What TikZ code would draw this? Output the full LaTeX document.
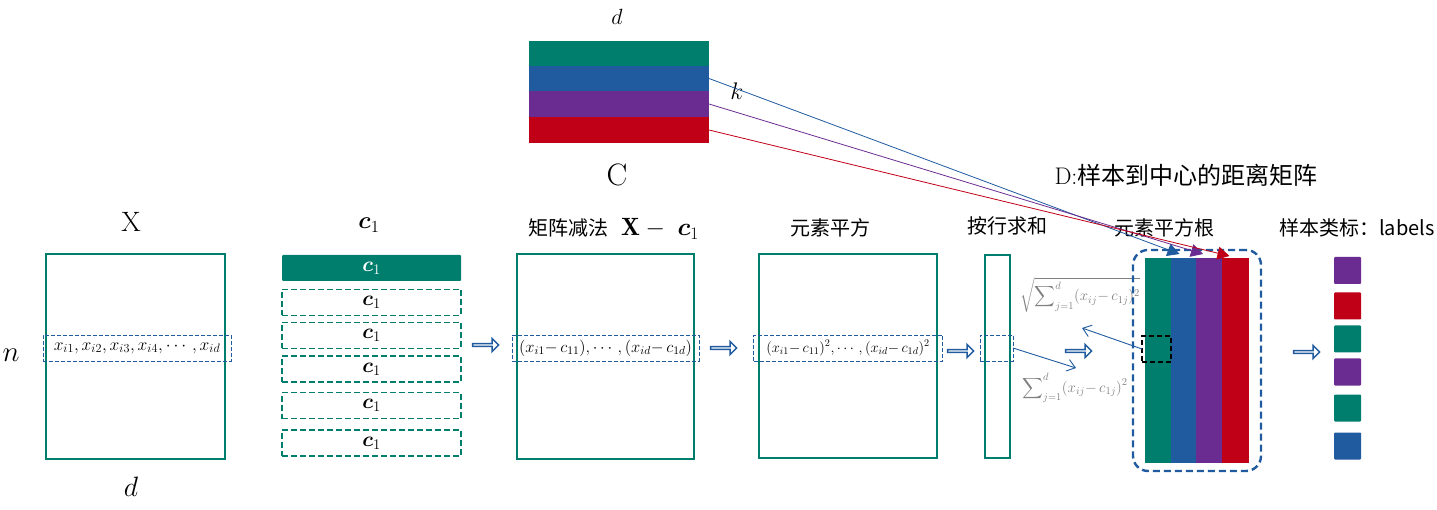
\RequirePackage{fix-cm}
\documentclass[tikz,border=0pt]{standalone}
\usepackage{amsmath,bm}
\usepackage{fontspec}
\newfontfamily\cjk{Noto Sans CJK SC}
\usetikzlibrary{positioning,arrows.meta,shapes.arrows}
\definecolor{mgreen}{RGB}{0,126,109}
\definecolor{mblue}{RGB}{31,91,158}
\definecolor{mpurple}{RGB}{107,44,145}
\definecolor{mred}{RGB}{192,0,22}
\definecolor{mgray}{RGB}{128,128,128}

\begin{document}
\begin{tikzpicture}[x=1pt, y=-1pt,
  every node/.style={inner sep=0pt, outer sep=0pt},
  mat/.style={draw=mgreen, line width=2pt},
  rowbox/.style={draw=mblue, dash pattern=on 4pt off 2pt, line width=0.9pt, minimum height=26pt,
    font=\fontsize{17.5}{17.5}\selectfont},
  cbar/.style={minimum width=179pt, minimum height=26pt, font=\fontsize{21}{21}\selectfont},
  cdash/.style={cbar, draw=mgreen, line width=1.6pt, dash pattern=on 6pt off 3pt},
  title/.style={font=\cjk\fontsize{20}{20}\selectfont},
  sym/.style={font=\fontsize{28}{28}\selectfont},
  hollow/.style={single arrow, draw=mblue, fill=white, line width=1.5pt,
    minimum height=26pt, minimum width=13pt, single arrow head extend=3pt},
  col/.style={minimum height=205pt},
  lab/.style={minimum width=27pt, minimum height=27pt, rounded corners=1pt},
  crow/.style={minimum width=180pt, minimum height=25.5pt},
  link/.style={-{Triangle[length=12pt,width=13pt]}, line width=0.8pt},
  thin/.style={-{Straight Barb[length=8pt,width=12pt]}, draw=mblue, line width=0.9pt},
  formula/.style={text=mgray, font=\fontsize{15}{15}\selectfont}
]
\useasboundingbox (0,0) rectangle (1437,510);

% centre matrix C
\node[crow, fill=mgreen] (Cg) at (619,53.5) {};
\node[crow, fill=mblue] (Cb) at (619,78.5) {};
\node[crow, fill=mpurple] (Cp) at (619,104) {};
\node[crow, fill=mred] (Cr) at (619,130) {};
\node[sym, font=\fontsize{22}{22}\selectfont] (Cd) at (617,17) {$d$};
\node[sym, font=\fontsize{31}{31}\selectfont] (Clab) at (617,175) {C};
\node[sym, font=\fontsize{24}{24}\selectfont] (Ck) at (737,91) {$k$};

% sample matrix X
\node[mat, minimum width=179pt, minimum height=205pt] (X) at (135.5,356.5) {};
\node[rowbox, minimum width=188pt] (Xrow) at (137,348) {$x_{i1}, x_{i2}, x_{i3}, x_{i4}, \cdots, x_{id}$};
\node[sym] (Xlab) at (131,222) {X};
\node[sym, font=\fontsize{29}{29}\selectfont] (Xn) at (11,355) {$n$};
\node[sym] (Xd) at (131,487) {$d$};

% repeated centre c1
\node[sym, font=\fontsize{24}{24}\selectfont] (c1lab) at (369,225) {$\bm{c}_1$};
\node[cbar, fill=mgreen, text=white, rounded corners=1pt] (c1) at (371.5,268) {$\bm{c}_1$};
\foreach \y [count=\i] in {302.5,335.5,369,405.5,443}
  \node[cdash] (c1d\i) at (371.5,\y) {$\bm{c}_1$};
\node[hollow] (a1) at (485,345) {};

% X - c1
\node[mat, minimum width=177pt, minimum height=204pt] (M) at (605.5,356.5) {};
\node[rowbox, minimum width=187pt, font=\fontsize{16.5}{16.5}\selectfont] (Mrow) at (605.5,348) {$(x_{i1}{-}\,c_{11}),\cdots,(x_{id}{-}\,c_{1d})$};
\node[title] (Mt) at (568,228) {矩阵减法};
\node[sym, font=\fontsize{25}{25}\selectfont] (Mt2) at (660,229) {$\mathbf{X}-\;\bm{c}_1$};
\node[hollow] (a2) at (723,348) {};

% squares
\node[mat, minimum width=178pt, minimum height=203pt] (S) at (848,356) {};
\node[rowbox, minimum width=189pt, font=\fontsize{14.5}{14.5}\selectfont] (Srow) at (848,348) {$(x_{i1}{-}\,c_{11})^2,\cdots,(x_{id}{-}\,c_{1d})^2$};
\node[title] (St) at (830,228) {元素平方};
\node[hollow] (a3) at (960,351) {};

% row sums
\node[mat, minimum width=25pt, minimum height=203pt] (R) at (997.5,356.5) {};
\node[rowbox, minimum width=33pt] (Rrow) at (996.5,348) {};
\node[title] (Rt) at (1007,226) {按行求和};
\node[hollow] (a4) at (1078,351) {};
\node[formula] (sumf) at (1075,388) {$\displaystyle\sum\nolimits_{j=1}^{d}(x_{ij}{-}\,c_{1j})^2$};
\node[formula] (sqrtf) at (1080,295) {$\displaystyle\sqrt{\sum\nolimits_{j=1}^{d}(x_{ij}{-}\,c_{1j})^2}$};

% distance matrix D
\node[draw=mblue, line width=2.4pt, dash pattern=on 7pt off 4pt, rounded corners=15pt,
  minimum width=128pt, minimum height=221pt] (Dbox) at (1197,360.5) {};
\node[col, minimum width=26pt, fill=mgreen] (Dg) at (1158,360.5) {};
\node[col, minimum width=25pt, fill=mblue] (Db) at (1183.5,360.5) {};
\node[col, minimum width=26pt, fill=mpurple] (Dp) at (1209,360.5) {};
\node[col, minimum width=27pt, fill=mred] (Dr) at (1235.5,360.5) {};
\node[draw=black, line width=2pt, dash pattern=on 5pt off 3pt,
  minimum width=29pt, minimum height=26pt] (blk) at (1156.5,349) {};
\node[title] (Dt) at (1164,228) {元素平方根};
\node[title, font=\cjk\fontsize{24}{24}\selectfont] (Dname) at (1186,175) {\rmfamily D:\cjk 样本到中心的距离矩阵};

% labels
\node[title] (Lt) at (1357,228) {样本类标：labels};
\node[hollow] (a5) at (1306,352) {};
\foreach \y/\c [count=\i] in {270.5/mpurple,306/mred,339/mgreen,372/mpurple,408/mgreen,446/mblue}
  \node[lab, fill=\c] (L\i) at (1347.5,\y) {};

% connectors
\coordinate (sumtip) at (1076,368);
\coordinate (sqtip) at (1082,328);
\draw[thin] (Rrow.east) -- (sumtip);
\draw[thin] (blk.west) -- (sqtip);
\draw[link, mblue] (Cb.east) -- ([shift={(-4,-4)}]Db.north);
\draw[link, mpurple] (Cp.east) -- ([shift={(-6,-4)}]Dp.north);
\draw[link, mred] (Cr.east) -- ([shift={(-6,-2)}]Dr.north);
\end{tikzpicture}
\end{document}
